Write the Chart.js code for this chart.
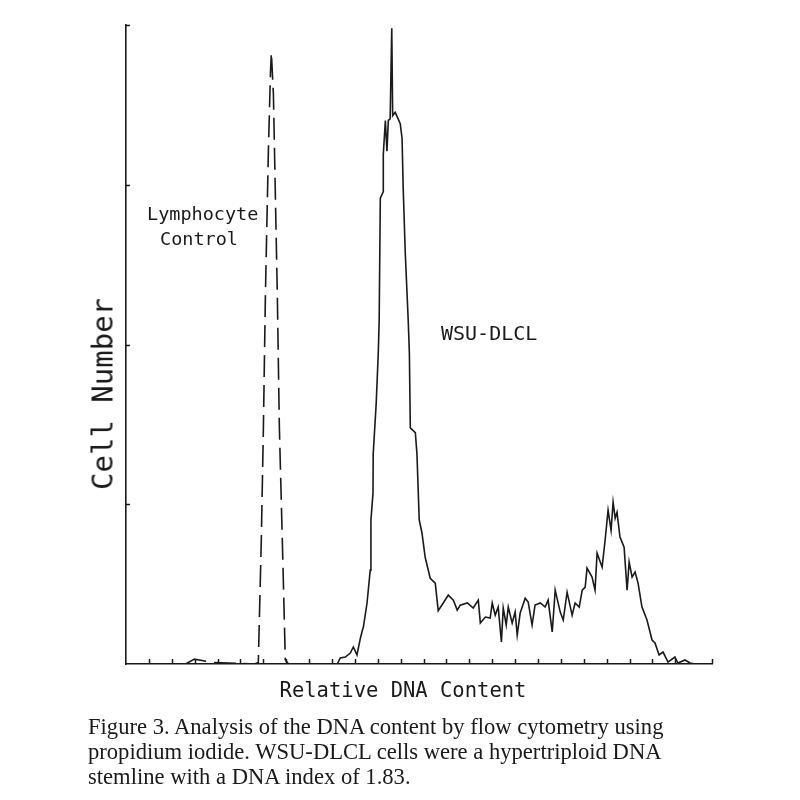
<!DOCTYPE html>
<html>
<head>
<meta charset="utf-8">
<script src="https://cdn.jsdelivr.net/npm/chart.js@4"></script>
<style>
  html, body { margin: 0; padding: 0; background: #ffffff; }
  #wrap { position: relative; width: 800px; height: 800px; overflow: hidden; background: #fff; }
  #c { position: absolute; left: 0; top: 0; }
  .t { position: absolute; white-space: nowrap; color: #1a1a1a; line-height: 1; }
  .mono { font-family: "DejaVu Sans Mono", monospace; }
  .cap { font-family: "Liberation Serif", "DejaVu Serif", serif; color: #1a1a1a; font-size: 22.6px; }
</style>
</head>
<body>
<div id="wrap">
  <canvas id="c" width="800" height="800"></canvas>
  <div class="t mono" style="left:147px; top:214px; font-size:18.5px; transform:translateY(-50%);">Lymphocyte</div>
  <div class="t mono" style="left:160px; top:239px; font-size:18.5px; transform:translateY(-50%);">Control</div>
  <div class="t mono" style="left:441px; top:333px; font-size:20px; transform:translateY(-50%);">WSU-DLCL</div>
  <div class="t mono" style="left:403px; top:690px; font-size:20.5px; transform:translate(-50%,-50%);">Relative DNA Content</div>
  <div class="t mono" style="left:103px; top:394px; font-size:29px; transform:translate(-50%,-50%) rotate(-90deg);">Cell Number</div>
  <div class="t cap" style="left:88px; top:727px; transform:translateY(-50%);">Figure 3. Analysis of the DNA content by flow cytometry using</div>
  <div class="t cap" style="left:88px; top:752px; transform:translateY(-50%);">propidium iodide. WSU-DLCL cells were a hypertriploid DNA</div>
  <div class="t cap" style="left:88px; top:777px; transform:translateY(-50%);">stemline with a DNA index of 1.83.</div>
</div>
<script>
// Relative DNA content channel (x) and cell number (y, arbitrary units)
const lymphChannels = [26, 29.9, 37.8, 56.1, 57.8, 59.1, 60.0, 60.9, 62.2, 63.1, 63.5, 64.4, 65.3, 66.1, 67.0, 68.3, 69.6, 71.0];
const lymphCounts   = [0, 3, 1, 0, 1, 76, 144, 228, 317, 365, 378, 352, 286, 229, 146, 76, 2.5, 0];

const wsuChannels = [
  90.6, 92.3, 93.6, 95.8, 98.0, 99.3, 100.9, 102.4, 103.3, 103.7, 105.3, 106.7, 107.0, 107.9, 108.0,
  109.3, 110.2, 110.6, 111.1, 112.4, 112.4, 113.3, 114.0, 114.6, 115.4, 116.1, 116.5, 117.6, 118.9,
  119.8, 120.6, 121.1, 122.0, 123.3, 123.8, 124.2, 126.4, 127.1, 128.1, 129.3, 130.7, 132.9, 135.1, 136.4,
  138.6, 140.8, 143.0, 144.7, 146.0, 149.1, 151.7, 153.9, 154.8, 157.0, 159.1, 160.0, 161.3, 162.6,
  164.0, 164.8, 166.1, 167.0, 168.7, 170.0, 170.9, 172.2, 174.4, 175.7, 177.4, 178.7, 181.0, 183.1,
  184.4, 186.2, 187.5, 189.7, 191.0, 192.7, 194.9, 196.2, 198.0, 199.3, 200.6, 201.4, 203.6, 204.9,
  205.8, 208.0, 209.3, 210.6, 211.9, 212.8, 213.7, 214.5, 215.8, 217.6, 218.9, 219.8, 221.1, 222.4,
  223.7, 225.4, 227.6, 229.8, 231.1, 232.9, 234.6, 236.8, 239.8, 241.1, 244.2, 246.4, 248.6
];
const wsuCounts = [
  0, 0, 3.7, 4.3, 6.8, 10.5, 5.6, 16, 21, 22.8, 37.7, 58, 89, 105.6, 130,
  161, 192, 212, 288, 292, 315, 336, 317, 336, 337, 393, 339, 341, 337,
  334, 325, 294, 254, 212, 192, 146, 143, 130, 89, 81, 66, 53, 50, 33,
  37.7, 42.6, 39.5, 33.3, 36.4, 37.7, 34.6, 39.5, 25.3, 29, 28.4, 37.7, 30.2, 35.2,
  13.6, 34.6, 24.1, 35.2, 25.3, 32.1, 17.9, 31.5, 40.7, 38.3, 24.1, 36.4, 37.7, 35.2,
  39.5, 19.8, 45.7, 32.1, 27.2, 44.4, 30.2, 37.7, 35.2, 45.7, 47.5, 59.3, 53.7, 45.7,
  68.5, 59.9, 76.5, 95.1, 82.7, 100, 90.1, 93.8, 78.4, 72.2, 45.7, 63, 53.7, 56.8,
  50, 35.2, 27.2, 14.8, 13, 5.6, 7.4, 1.2, 4.3, 0.6, 2.5, 0.6, 0
];

const xTickStep = 10;   // channels between x ticks
const yTickStep = 100;  // units between y ticks
const xMax = 256;
const yMax = 395;

const toXY = (xs, ys) => xs.map((x, i) => ({ x: x, y: ys[i] }));

const inwardTicks = {
  id: 'inwardTicks',
  afterDatasetsDraw(chart) {
    const ctx = chart.ctx;
    const xs = chart.scales.x, ys = chart.scales.y;
    const area = chart.chartArea;
    ctx.save();
    ctx.strokeStyle = '#1a1a1a';
    ctx.lineWidth = 1.5;
    xs.ticks.forEach(t => {
      if (t.value <= 0) return;
      const px = Math.round(xs.getPixelForValue(t.value)) + 0.5;
      ctx.beginPath(); ctx.moveTo(px, area.bottom); ctx.lineTo(px, area.bottom - 5); ctx.stroke();
    });
    ys.ticks.forEach(t => {
      if (t.value <= 0) return;
      const py = Math.round(ys.getPixelForValue(t.value)) + 0.5;
      ctx.beginPath(); ctx.moveTo(area.left, py); ctx.lineTo(area.left + 4, py); ctx.stroke();
    });
    ctx.restore();
  }
};

new Chart(document.getElementById('c'), {
  type: 'line',
  data: {
    datasets: [
      {
        label: 'Lymphocyte Control',
        data: toXY(lymphChannels, lymphCounts),
        borderColor: '#1a1a1a',
        borderWidth: 1.6,
        borderDash: [22, 8],
        pointRadius: 0,
        tension: 0,
        fill: false
      },
      {
        label: 'WSU-DLCL',
        data: toXY(wsuChannels, wsuCounts),
        borderColor: '#1a1a1a',
        borderWidth: 1.6,
        pointRadius: 0,
        tension: 0,
        fill: false
      }
    ]
  },
  options: {
    responsive: false,
    animation: false,
    layout: { padding: { left: 126, right: 88, top: 25, bottom: 136 } },
    plugins: { legend: { display: false }, tooltip: { enabled: false } },
    scales: {
      x: {
        type: 'linear', min: 0, max: xMax,
        ticks: { display: false, stepSize: xTickStep },
        grid: { display: true, drawOnChartArea: false, drawTicks: false },
        border: { display: true, color: '#1a1a1a', width: 1.6 }
      },
      y: {
        type: 'linear', min: 0, max: yMax,
        ticks: { display: false, stepSize: yTickStep },
        grid: { display: true, drawOnChartArea: false, drawTicks: false },
        border: { display: true, color: '#1a1a1a', width: 1.6 }
      }
    }
  },
  plugins: [inwardTicks]
});
</script>
</body>
</html>
